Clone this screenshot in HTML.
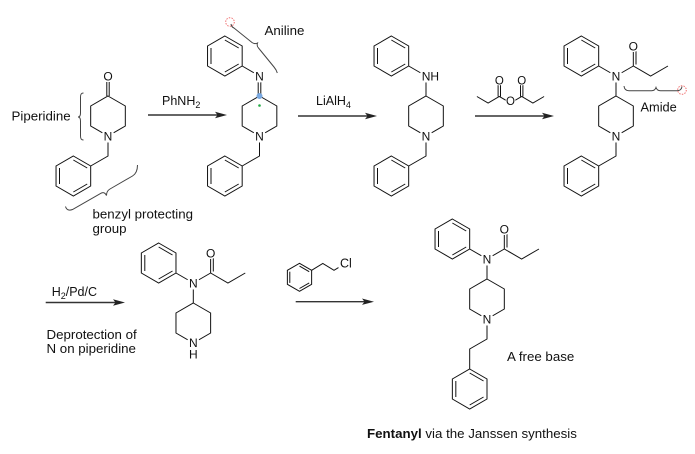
<!DOCTYPE html>
<html>
<head>
<meta charset="utf-8">
<style>
  html, body { margin:0; padding:0; background:#fff; }
  svg { display:block; }
  .b { fill:none; stroke:#111; stroke-width:1; }
  .lbl { font-family:"Liberation Sans", Arial, sans-serif; font-size:12px; fill:#111; text-anchor:middle; }
  .t { font-family:"Liberation Sans", Arial, sans-serif; font-size:13.3px; fill:#111; }
  .r { font-family:"Liberation Sans", Arial, sans-serif; font-size:12.5px; fill:#111; }
  .br { fill:none; stroke:#444; stroke-width:1; }
  .ar { stroke:#333; stroke-width:1.4; }
</style>
</head>
<body>
<svg width="695" height="454" viewBox="0 0 695 454" xmlns="http://www.w3.org/2000/svg">
<defs>
  <g id="ring">
    <polygon class="b" vector-effect="non-scaling-stroke" points="0,-20 17.32,-10 17.32,10 0,20 -17.32,10 -17.32,-10"/>
  </g>
  <g id="ph">
    <polygon class="b" vector-effect="non-scaling-stroke" points="0,-20 17.32,-10 17.32,10 0,20 -17.32,10 -17.32,-10"/>
    <line class="b" vector-effect="non-scaling-stroke" x1="-13.86" y1="-8" x2="-13.86" y2="8"/>
    <line class="b" vector-effect="non-scaling-stroke" x1="0" y1="-16" x2="13.86" y2="-8"/>
    <line class="b" vector-effect="non-scaling-stroke" x1="13.86" y1="8" x2="0" y2="16"/>
  </g>
</defs>
<rect width="695" height="454" fill="#fff"/>

<!-- ============ Molecule 1: N-benzyl-4-piperidone ============ -->
<use href="#ring" x="108" y="116"/>
<line class="b" x1="106.8" y1="96" x2="106.8" y2="82"/>
<line class="b" x1="109.2" y1="96" x2="109.2" y2="82"/>
<polyline class="b" points="108,136 108,156 90.68,166"/>
<use href="#ph" x="73.36" y="176"/>
<circle cx="108" cy="136" r="6.5" fill="#fff"/>
<text class="lbl" x="108" y="80.5">O</text>
<text class="lbl" x="108" y="140.5">N</text>

<!-- Piperidine brace & label -->
<path class="br" d="M83.5,93 C81,93 80.5,94.5 80.5,97 L80.5,113 C80.5,116 79.5,117 78,117 C79.5,117 80.5,118 80.5,121 L80.5,136 C80.5,138.5 81,140 83.5,140"/>
<text class="t" x="11.5" y="120.5">Piperidine</text>

<!-- benzyl brace & label -->
<path class="br" d="M65.5,206.5 Q67,211.5 72.5,209.5 L101.5,193 Q104.5,191.5 106.5,195.5 Q106.5,191 110,189 L132.5,176 Q137.5,173 137.5,165"/>
<text class="t" x="92.5" y="218.5">benzyl protecting</text>
<text class="t" x="92.5" y="233">group</text>

<!-- Arrow 1 -->
<line class="ar" x1="148" y1="115" x2="218" y2="115"/>
<polygon points="227,115 215,111.8 217.5,115 215,118.2" fill="#222"/>
<text class="r" x="162" y="105">PhNH<tspan font-size="9" dy="3">2</tspan></text>

<!-- ============ Molecule 2: imine ============ -->
<use href="#ring" x="259.5" y="116"/>
<line class="b" x1="258.2" y1="96" x2="258.2" y2="76"/>
<line class="b" x1="260.8" y1="96" x2="260.8" y2="76"/>
<line class="b" x1="259.5" y1="76" x2="242.18" y2="66"/>
<use href="#ph" x="224.86" y="56"/>
<polyline class="b" points="259.5,136 259.5,156 242.18,166"/>
<use href="#ph" x="224.86" y="176"/>
<circle cx="259.5" cy="76" r="6.5" fill="#fff"/>
<circle cx="259.5" cy="136" r="6.5" fill="#fff"/>
<text class="lbl" x="259.5" y="80.5">N</text>
<text class="lbl" x="259.5" y="140.5">N</text>
<circle cx="259.5" cy="96" r="3" fill="#79a8e0"/>
<circle cx="259.5" cy="105.5" r="1.3" fill="#22aa44"/>

<!-- Aniline brace -->
<circle cx="230" cy="22" r="4.3" fill="none" stroke="#f07070" stroke-width="1" stroke-dasharray="1.5,1.2"/>
<path class="br" d="M231,24 Q231.5,27 234,28 L252,42.5 Q255,44.5 257.5,43 Q256.5,46 258.5,48 L274,67 Q276.5,70 277.3,73"/>
<text class="t" x="264.5" y="35">Aniline</text>

<!-- Arrow 2 -->
<line class="ar" x1="298" y1="116" x2="368" y2="116"/>
<polygon points="377,116 365,112.8 367.5,116 365,119.2" fill="#222"/>
<text class="r" x="316" y="105">LiAlH<tspan font-size="9" dy="3">4</tspan></text>

<!-- ============ Molecule 3: amine ============ -->
<use href="#ring" x="426" y="116"/>
<line class="b" x1="426" y1="96" x2="426" y2="76"/>
<line class="b" x1="426" y1="76" x2="408.68" y2="66"/>
<use href="#ph" x="391.36" y="56"/>
<polyline class="b" points="426,136 426,156 408.68,166"/>
<use href="#ph" x="391.36" y="176"/>
<circle cx="426" cy="76" r="6.5" fill="#fff"/>
<rect x="430" y="70" width="10" height="12" fill="#fff"/>
<circle cx="426" cy="136" r="6.5" fill="#fff"/>
<text class="lbl" x="421.7" y="80.5" style="text-anchor:start">NH</text>
<text class="lbl" x="426" y="140.5">N</text>

<!-- Anhydride reagent -->
<polyline class="b" points="476.9,96.5 488.1,103 499.3,96.5 510.5,103 521.7,96.5 532.9,103 544.1,96.5"/>
<line class="b" x1="498.1" y1="96.5" x2="498.1" y2="84"/>
<line class="b" x1="500.5" y1="96.5" x2="500.5" y2="84"/>
<line class="b" x1="520.5" y1="96.5" x2="520.5" y2="84"/>
<line class="b" x1="522.9" y1="96.5" x2="522.9" y2="84"/>
<circle cx="499.3" cy="80.5" r="5" fill="#fff"/>
<circle cx="521.7" cy="80.5" r="5" fill="#fff"/>
<circle cx="510.5" cy="101" r="5" fill="#fff"/>
<text class="lbl" x="499.3" y="84.5" style="font-size:11.5px">O</text>
<text class="lbl" x="521.7" y="84.5" style="font-size:11.5px">O</text>
<text class="lbl" x="510.5" y="105" style="font-size:11.5px">O</text>

<!-- Arrow 3 -->
<line class="ar" x1="475" y1="116" x2="545" y2="116"/>
<polygon points="554,116 542,112.8 544.5,116 542,119.2" fill="#222"/>

<!-- ============ Molecule 4: amide (benzyl) ============ -->
<use href="#ring" x="616" y="116"/>
<line class="b" x1="616" y1="96" x2="616" y2="76"/>
<line class="b" x1="616" y1="76" x2="598.68" y2="66"/>
<use href="#ph" x="581.36" y="56"/>
<line class="b" x1="616" y1="76" x2="633.32" y2="66"/>
<line class="b" x1="633.32" y1="66" x2="633.32" y2="46"/>
<line class="b" x1="636" y1="64.5" x2="636" y2="48"/>
<polyline class="b" points="633.32,66 650.64,76 667.96,66"/>
<polyline class="b" points="616,136 616,156 598.68,166"/>
<use href="#ph" x="581.36" y="176"/>
<circle cx="616" cy="76" r="6.5" fill="#fff"/>
<circle cx="633.32" cy="46" r="6" fill="#fff"/>
<circle cx="616" cy="136" r="6.5" fill="#fff"/>
<text class="lbl" x="616" y="80.5">N</text>
<text class="lbl" x="633.32" y="50.5">O</text>
<text class="lbl" x="616" y="140.5">N</text>

<!-- Amide brace -->
<path class="br" d="M624,86 Q624.5,90.7 629,90.7 L651.5,90.7 Q655,90.7 656,87.5 Q657,90.7 660.5,90.7 L677,90.7 Q681.5,90.7 682,86.5"/>
<circle cx="682" cy="90" r="4.3" fill="none" stroke="#f07070" stroke-width="1" stroke-dasharray="1.5,1.2"/>
<text class="t" x="640.5" y="111.5" style="font-size:12.8px">Amide</text>

<!-- ============ Bottom row ============ -->
<!-- Arrow 4 -->
<line class="ar" x1="45.7" y1="302.5" x2="116" y2="302.5"/>
<polygon points="125,302.5 113,299.3 115.5,302.5 113,305.7" fill="#222"/>
<text class="r" x="51.7" y="296">H<tspan font-size="9" dy="3">2</tspan><tspan dy="-3">/Pd/C</tspan></text>
<text class="t" x="46.5" y="339">Deprotection of</text>
<text class="t" x="46.5" y="353">N on piperidine</text>

<!-- Molecule 5: norfentanyl -->
<use href="#ring" x="193.3" y="323"/>
<line class="b" x1="193.3" y1="303" x2="193.3" y2="283"/>
<line class="b" x1="193.3" y1="283" x2="175.98" y2="273"/>
<use href="#ph" x="158.66" y="263"/>
<line class="b" x1="193.3" y1="283" x2="210.62" y2="273"/>
<line class="b" x1="210.62" y1="273" x2="210.62" y2="253"/>
<line class="b" x1="213.3" y1="271.5" x2="213.3" y2="255"/>
<polyline class="b" points="210.62,273 227.94,283 245.26,273"/>
<circle cx="193.3" cy="283" r="6.5" fill="#fff"/>
<circle cx="210.62" cy="253" r="6" fill="#fff"/>
<circle cx="193.3" cy="343" r="6.5" fill="#fff"/>
<rect x="187.5" y="346" width="12" height="14" fill="#fff"/>
<text class="lbl" x="193.3" y="287.5">N</text>
<text class="lbl" x="210.62" y="257.5">O</text>
<text class="lbl" x="193.3" y="347">N</text>
<text class="lbl" x="193.3" y="358.5">H</text>

<!-- Phenethyl chloride reagent -->
<use href="#ph" transform="translate(299.5,277.3) scale(0.7)"/>
<polyline class="b" points="311.62,270.3 322.8,263.5 334,270.3 338.5,267.6"/>
<text class="r" x="340" y="267.5">Cl</text>

<!-- Arrow 5 -->
<line class="ar" x1="295.7" y1="301.7" x2="365" y2="301.7"/>
<polygon points="374,301.7 362,298.5 364.5,301.7 362,304.9" fill="#222"/>

<!-- Fentanyl -->
<use href="#ring" x="487" y="299"/>
<line class="b" x1="487" y1="279" x2="487" y2="259"/>
<line class="b" x1="487" y1="259" x2="469.68" y2="249"/>
<use href="#ph" x="452.36" y="239"/>
<line class="b" x1="487" y1="259" x2="504.32" y2="249"/>
<line class="b" x1="504.32" y1="249" x2="504.32" y2="229"/>
<line class="b" x1="507" y1="247.5" x2="507" y2="231"/>
<polyline class="b" points="504.32,249 521.64,259 538.96,249"/>
<polyline class="b" points="487,319 487,339 469.68,349 469.68,369"/>
<use href="#ph" x="469.68" y="389"/>
<circle cx="487" cy="259" r="6.5" fill="#fff"/>
<circle cx="504.32" cy="229" r="6" fill="#fff"/>
<circle cx="487" cy="319" r="6.5" fill="#fff"/>
<text class="lbl" x="487" y="263.5">N</text>
<text class="lbl" x="504.32" y="233.5">O</text>
<text class="lbl" x="487" y="323.5">N</text>

<text class="t" x="507" y="361">A free base</text>
<text class="t" x="367" y="438"><tspan font-weight="bold">Fentanyl</tspan> via the Janssen synthesis</text>
</svg>
</body>
</html>
